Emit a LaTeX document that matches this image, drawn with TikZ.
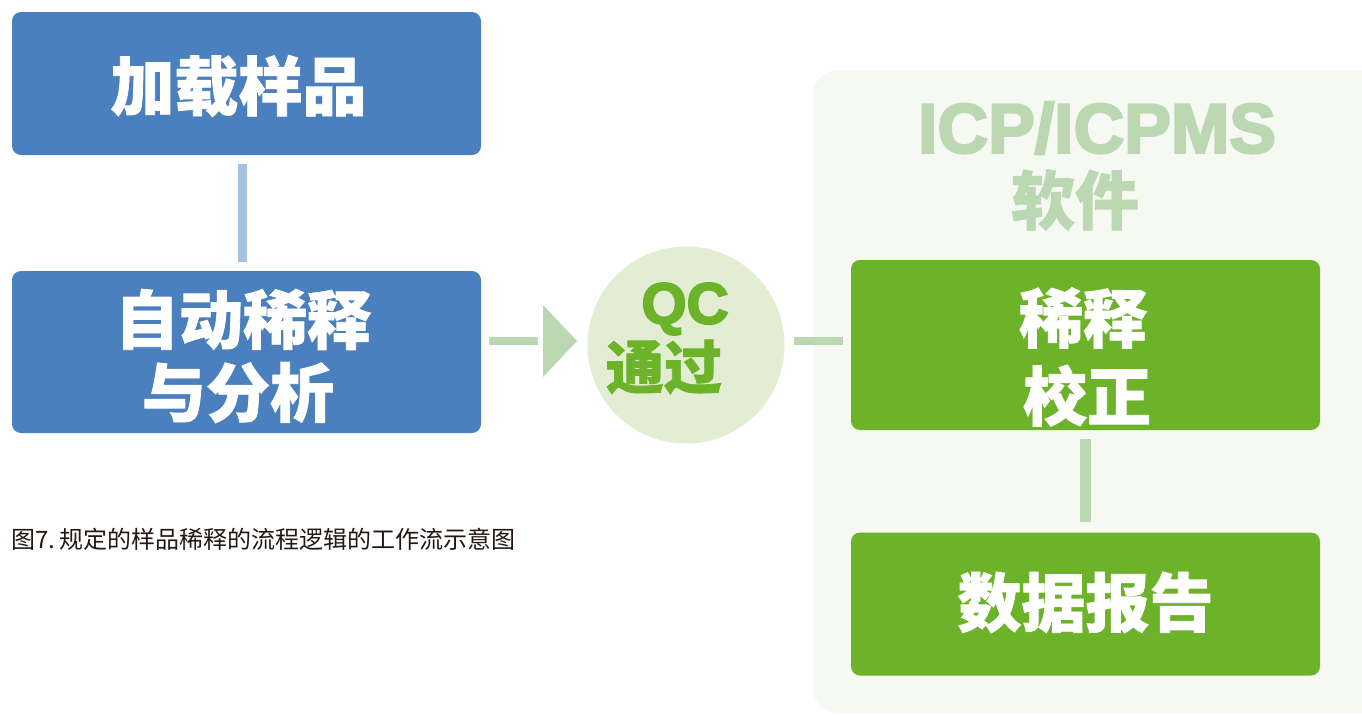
\documentclass[tikz,border=0pt]{standalone}
\usepackage{fontspec}
\newfontfamily\cjk{Noto Sans CJK SC}[BoldFeatures={FakeBold=1.2}]
\newfontfamily\latb{Liberation Sans}[BoldFeatures={FakeBold=3.5}]
\definecolor{boxblue}{HTML}{4B80BE}
\definecolor{lineblue}{HTML}{A7C2E1}
\definecolor{boxgreen}{HTML}{6DB32A}
\definecolor{linegreen}{HTML}{BBD8B3}
\definecolor{panelbg}{HTML}{F6F9F2}
\definecolor{circbg}{HTML}{E2EDD3}
\definecolor{captxt}{HTML}{231815}
\tikzset{
  bluebox/.style={rectangle, rounded corners=9pt, fill=boxblue, inner sep=0pt},
  greenbox/.style={rectangle, rounded corners=9pt, fill=boxgreen, inner sep=0pt},
  boxtext/.style={text=white, align=center, inner sep=0pt, font=\cjk\bfseries\fontsize{64}{75}\selectfont},
  vconnblue/.style={draw=lineblue, line width=9pt},
  vconngreen/.style={draw=linegreen, line width=11pt},
  hconn/.style={draw=linegreen, line width=8pt},
}
\begin{document}
\begin{tikzpicture}[x=1pt,y=-1pt]
\useasboundingbox (0,0) rectangle (1362,715);
\fill[white] (0,0) rectangle (1362,715);
% panel
\begin{scope}
\clip (0,0) rectangle (1362,715);
\fill[panelbg, rounded corners=25pt] (813,70) rectangle (1400,713);
\end{scope}
\node[text=linegreen, inner sep=0pt, font=\latb\bfseries\fontsize{70}{80}\selectfont] (icp) at (1097,128) {ICP/ICPMS};
\node[text=linegreen, inner sep=0pt, font=\cjk\bfseries\fontsize{64}{75}\selectfont] (sw) at (1075,200) {软件};
% boxes
\node[bluebox, minimum width=469pt, minimum height=143pt] (b1) at (246.5,83.5) {};
\node[bluebox, minimum width=469pt, minimum height=162pt] (b2) at (246.5,352) {};
\node[greenbox, minimum width=469pt, minimum height=170pt] (b3) at (1085.5,345) {};
\node[greenbox, minimum width=469pt, minimum height=143pt] (b4) at (1085.5,604) {};
\node[boxtext] (t1) at (238.5,86) {加载样品};
\node[boxtext, font=\cjk\bfseries\fontsize{64}{73}\selectfont] (t2) at (243,356) {自动稀释\\[0pt]\hspace*{-10pt}与分析};
\node[boxtext, font=\cjk\bfseries\fontsize{64}{78}\selectfont] (t3) at (1083,357) {稀释\\\hspace*{8pt}校正};
\node[boxtext] (t4) at (1085.5,602.5) {数据报告};
% QC circle
\node[circle, fill=circbg, minimum size=197pt, inner sep=0pt] (qc) at (686,345) {};
\node[text=boxgreen, inner sep=0pt, font=\latb\bfseries\fontsize{58}{66}\selectfont] (qcA) at (685,309) {QC};
\node[text=boxgreen, inner sep=0pt, font=\cjk\bfseries\fontsize{58}{66}\selectfont] (qcB) at (664,367) {通过};
% connectors
\draw[vconnblue] ([xshift=-4pt,yshift=-9pt]b1.south) -- ([xshift=-4pt,yshift=9pt]b2.north);
\draw[vconngreen] ([yshift=-9pt]b3.south) -- ([yshift=10pt]b4.north);
\coordinate (tip) at (577,341);
\fill[linegreen] (tip) -- ++(-34,-36) -- ++(0,72) -- cycle;
\draw[hconn] ([xshift=8pt]b2.east |- tip) -- ([xshift=-39pt]tip);
\draw[hconn] ([xshift=9pt]qc.east |- tip) -- ([xshift=-8pt]b3.west |- tip);
% caption
\node[anchor=west, text=captxt, inner sep=0pt, font=\cjk\fontsize{24}{26}\selectfont] (cap) at (11,539) {图7.\,规定的样品稀释的流程逻辑的工作流示意图};
\end{tikzpicture}
\end{document}
